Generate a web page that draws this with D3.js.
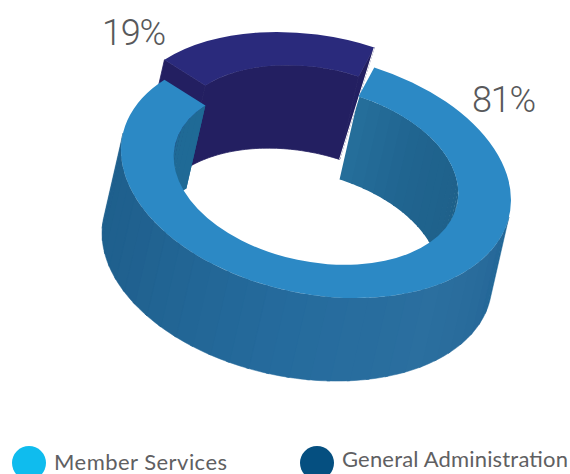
<!DOCTYPE html>
<html>
<head>
<meta charset="utf-8">
<script src="https://cdn.jsdelivr.net/npm/d3@7"></script>
<style>
  body {margin: 0; background: #fff;}
  svg {display: block;}
  text {fill: #58595b;}
  .pct {font-family: Roboto, sans-serif; font-size: 36px; font-weight: 300; letter-spacing: -1.2px;}
  .legend {font-family: Lato, sans-serif; font-size: 22px; fill: #5f6062;}
</style>
</head>
<body>
<script>
const categories = ['Member Services', 'General Administration']
const shares = [81, 19]
const labels = ['81%', '19%']

const svg = d3.select('body').append('svg').attr('width', 570).attr('height', 474)

// ring is a flat circle seen at an angle, so one tilted ellipse for everything
const cx = 316, cy = 175
const A = 197.5 / 100, B = 119 / 100
const tilt = 11.5 * Math.PI / 180
const outerR = 100, innerR = 73
const drop = {x: -19, y: 83}   // wall depth
const lift = -20               // the small slice sits higher
const start = 10.4 * Math.PI / 180

const pie = d3.pie().sort(null).startAngle(start).endAngle(start + 2 * Math.PI)
const slices = pie(shares)
const arc = d3.arc().innerRadius(innerR).outerRadius(outerR)

const project = (a, r, dx = 0, dy = 0) => {
  const u = Math.sin(a) * r * A, v = -Math.cos(a) * r * B
  return [cx + dx + u * Math.cos(tilt) - v * Math.sin(tilt),
          cy + dy + u * Math.sin(tilt) + v * Math.cos(tilt)]
}

// one quad of a wall between two pie angles
const wall = (a0, a1, r, dy) => {
  const n = Math.max(2, Math.ceil(Math.abs(a1 - a0) * 40))
  const as = d3.range(n + 1).map(i => a0 + (a1 - a0) * i / n)
  const top = as.map(a => project(a, r, 0, dy))
  const bottom = as.map(a => project(a, r, drop.x, dy + drop.y)).reverse()
  return d3.line()(top.concat(bottom)) + 'Z'
}

const deg = d => d * Math.PI / 180
const faceTransform = dy => `matrix(${A * Math.cos(tilt)},${A * Math.sin(tilt)},${-B * Math.sin(tilt)},${B * Math.cos(tilt)},${cx},${cy + dy})`

const blue = slices[0], navy = slices[1]

// walls are shaded in bands along the ring
const frontShade = d3.scaleLinear()
  .domain([deg(91), deg(105), deg(135), deg(180), deg(235), deg(271)])
  .range(['#1c6594', '#27699a', '#2b6f9f', '#256b9d', '#20618f', '#1d5f8c'])
const backShade = d3.scaleLinear()
  .domain([deg(271), deg(302), deg(370), deg(400), deg(451)])
  .range(['#1f6a96', '#1f6a96', '#266f9b', '#20648f', '#1e6089'])

const bands = (lo, hi, size) => d3.range(Math.ceil((hi - lo) / size)).map(i => {
  const a0 = lo + i * size
  return [a0, Math.min(hi, a0 + size * 1.15)]
})

// raised navy slice, stroked in its own colour to close the seams
const navyG = svg.append('g').attr('fill', '#231f61').attr('stroke', '#231f61').attr('stroke-width', 0.8)
navyG.append('path').attr('d', wall(navy.startAngle, navy.endAngle, innerR, lift))
const leftCut = [project(navy.startAngle, outerR, 0, lift), project(navy.startAngle, innerR, 0, lift),
  project(navy.startAngle, innerR, drop.x, lift + drop.y), project(navy.startAngle, outerR, drop.x, lift + drop.y)]
navyG.append('path').attr('d', d3.line()(leftCut) + 'Z')
const rightCut = [project(navy.endAngle, outerR, 0, lift), project(navy.endAngle, innerR, 0, lift),
  project(navy.endAngle, innerR, drop.x, lift + drop.y)]
navyG.append('path').attr('d', d3.line()(rightCut) + 'Z')
svg.append('path').attr('d', arc(navy)).attr('transform', faceTransform(lift)).attr('fill', '#2a2a7c')

// inside of the blue ring, only the back part shows
const insideBlue = svg.append('g')
bands(deg(370.4), deg(451.3), deg(5)).concat(bands(deg(271.3), deg(302), deg(5))).forEach(b => {
  insideBlue.append('path').attr('d', wall(b[0], b[1], innerR, 0))
    .attr('fill', backShade((b[0] + b[1]) / 2))
})

// thin white gap on the right of the navy slice
svg.append('path')
  .attr('d', d3.line()([rightCut[0], rightCut[2]]))
  .attr('stroke', '#fff').attr('stroke-width', 1).attr('fill', 'none')

// outer wall
const outside = svg.append('g')
bands(deg(91.3), deg(271.3), deg(6)).forEach(b => {
  const c = frontShade((b[0] + b[1]) / 2)
  outside.append('path').attr('d', wall(b[0], b[1], outerR, 0))
    .attr('fill', c).attr('stroke', c).attr('stroke-width', 0.5)
})

// top of the blue ring
svg.append('path').attr('d', arc(blue)).attr('transform', faceTransform(0)).attr('fill', '#2c89c5')

// percent labels
svg.append('text').attr('class', 'pct').attr('x', 472).attr('y', 112).text(labels[0])
svg.append('text').attr('class', 'pct').attr('x', 102).attr('y', 45).text(labels[1])

// legend
const legendColor = d3.scaleOrdinal().domain(categories).range(['#0fbcee', '#054f80'])
const legendX = d3.scaleOrdinal().domain(categories).range([29, 317])
const legendTextY = d3.scaleOrdinal().domain(categories).range([470, 467])
const legendWidth = d3.scaleOrdinal().domain(categories).range([173, 226])
const legend = svg.append('g').selectAll('g').data(categories).enter().append('g')
legend.append('circle')
  .attr('cx', d => legendX(d)).attr('cy', 463).attr('r', 17)
  .attr('fill', d => legendColor(d))
legend.append('text').attr('class', 'legend')
  .attr('x', d => legendX(d) + 25).attr('y', d => legendTextY(d))
  .attr('textLength', d => legendWidth(d))
  .text(d => d)
</script>
</body>
</html>
